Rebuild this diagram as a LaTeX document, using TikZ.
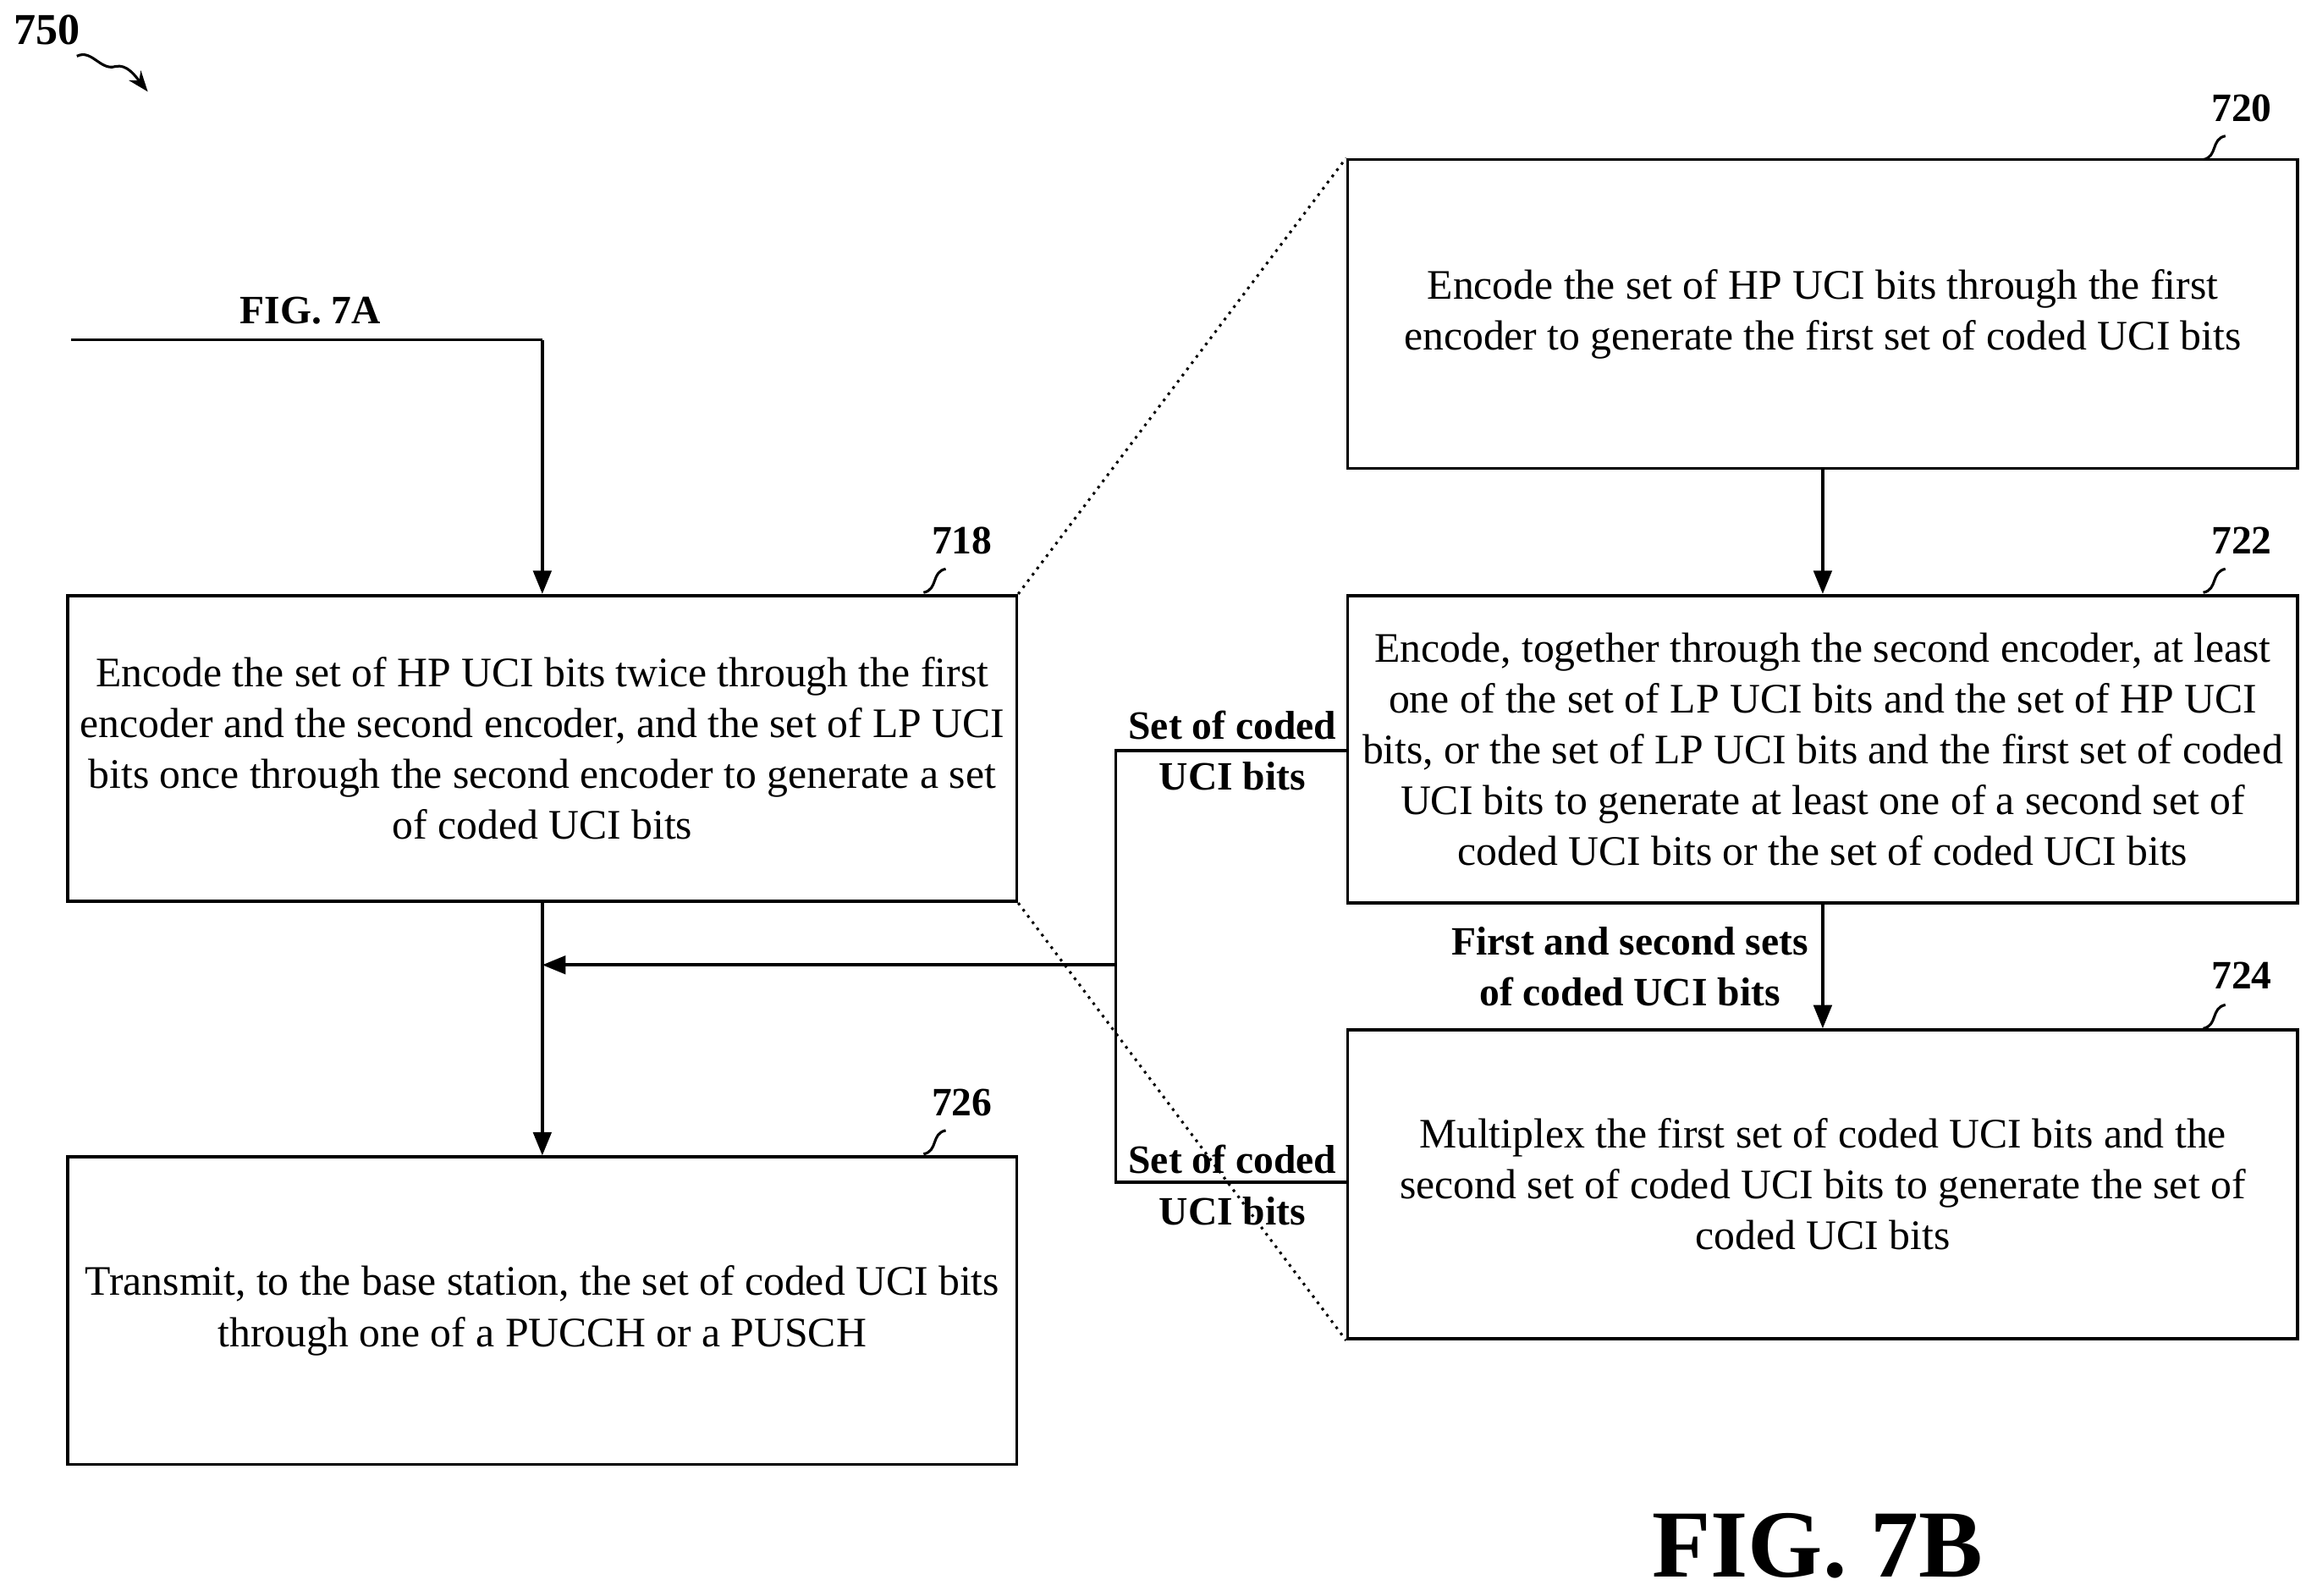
\documentclass[tikz,border=0pt]{standalone}
\usepackage{fontspec}
\setmainfont{Liberation Serif}
\usetikzlibrary{arrows.meta}
\begin{document}
\begin{tikzpicture}[x=0.02cm,y=-0.02cm,
 box/.style={draw,line width=1.2pt,align=center,font=\fontsize{16.2}{19.6}\selectfont},
 lbl/.style={font=\bfseries\fontsize{15.5}{19.6}\selectfont,align=center},
 arr/.style={line width=1.2pt,-{Triangle[length=9pt,width=7pt]}},
 ln/.style={line width=1.2pt},
 dot/.style={line width=1pt,dotted},
 sq/.style={line width=1pt}]
\useasboundingbox (0,0) rectangle (1568,1080);
\node[box,minimum width=642*0.02cm,minimum height=207*0.02cm] (b718) at (367,506.5) {Encode the set of HP UCI bits twice through the first\\encoder and the second encoder, and the set of LP UCI\\bits once through the second encoder to generate a set\\of coded UCI bits};
\node[box,minimum width=643*0.02cm,minimum height=209*0.02cm] (b720) at (1233.5,212.5) {Encode the set of HP UCI bits through the first\\encoder to generate the first set of coded UCI bits};
\node[box,minimum width=643*0.02cm,minimum height=208*0.02cm] (b722) at (1233.5,507) {Encode, together through the second encoder, at least\\one of the set of LP UCI bits and the set of HP UCI\\bits, or the set of LP UCI bits and the first set of coded\\UCI bits to generate at least one of a second set of\\coded UCI bits or the set of coded UCI bits};
\node[box,minimum width=643*0.02cm,minimum height=209*0.02cm] (b724) at (1233.5,801.5) {Multiplex the first set of coded UCI bits and the\\second set of coded UCI bits to generate the set of\\coded UCI bits};
\node[box,minimum width=642*0.02cm,minimum height=208*0.02cm] (b726) at (367,887) {Transmit, to the base station, the set of coded UCI bits\\through one of a PUCCH or a PUSCH};
\draw[dot] (b718.north east) -- (b720.north west);
\draw[dot] (b718.south east) -- (b724.south west);
\coordinate (s) at (48,230);
\coordinate (c) at (367,230);
\node[lbl] (f7a) at (210,210) {FIG. 7A};
\draw[ln] (s) -- (c);
\draw[arr] (c) -- (b718.north);
\coordinate (j) at (367,653);
\draw[arr] (b718.south) -- (b726.north);
\draw[arr] (b720.south) -- (b722.north);
\draw[arr] (b722.south) -- (b724.north);
\coordinate (k1) at (755,508);
\coordinate (k2) at (755,800);
\coordinate (k3) at (755,653);
\draw[ln] (b722.west |- k1) -- (k1) -- (k2) -- (b724.west |- k2);
\draw[arr] (k3) -- (j);
\node[lbl] (l1) at (834,508) {Set of coded\\UCI bits};
\node[lbl] (l2) at (834,802) {Set of coded\\UCI bits};
\node[lbl] (l3) at (1103,654) {First and second sets\\of coded UCI bits};
\node[lbl] (r718) at (651,366) {718};
\node[lbl] (r720) at (1517,73) {720};
\node[lbl] (r722) at (1517,366) {722};
\node[lbl] (r724) at (1517,660) {724};
\node[lbl] (r726) at (651,746) {726};
\foreach \x/\y in {625/401,1491/108,1491/401,1491/696,625/781}
 \draw[sq] (\x,\y) .. controls (\x+10,\y-2) and (\x+5,\y-14) .. (\x+15,\y-16);
\node[lbl,font=\bfseries\fontsize{17}{20}\selectfont] (r750) at (32,20) {750};
\draw[sq,-{Stealth[length=8pt]}] (52,38) .. controls (62,33) and (68,48) .. (78,45) .. controls (86,43) and (92,52) .. (100,62);
\node[lbl,font=\bfseries\fontsize{37}{40}\selectfont] (f7b) at (1230,1046) {FIG. 7B};
\end{tikzpicture}
\end{document}
